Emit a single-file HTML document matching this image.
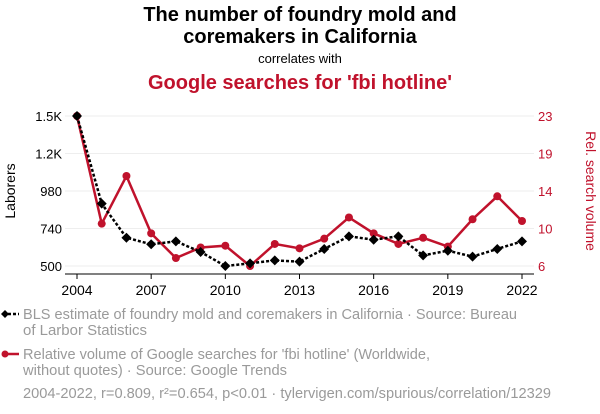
<!DOCTYPE html>
<html><head><meta charset="utf-8"><style>
body{margin:0;background:#fff;width:600px;height:414px;overflow:hidden;font-family:"Liberation Sans",sans-serif}
svg{display:block}
</style></head><body>
<svg id="chart" width="600" height="414" viewBox="0 0 600 414" font-family="Liberation Sans, sans-serif">
<text x="300" y="21" text-anchor="middle" font-size="20" font-weight="bold" fill="#000">The number of foundry mold and</text>
<text x="300" y="43" text-anchor="middle" font-size="20" font-weight="bold" fill="#000">coremakers in California</text>
<text x="300" y="63" text-anchor="middle" font-size="13" fill="#000">correlates with</text>
<text x="300" y="89" text-anchor="middle" font-size="20" font-weight="bold" fill="#c0122c">Google searches for 'fbi hotline'</text>
<g id="grid"></g>
<g id="axes"></g>
<g id="series"></g>
<text transform="translate(15,191) rotate(-90)" text-anchor="middle" font-size="14" fill="#000">Laborers</text>
<text transform="translate(586,191) rotate(90)" text-anchor="middle" font-size="14" fill="#c0122c">Rel. search volume</text>
<g>
<line x1="3" y1="314" x2="19" y2="314" stroke="#000" stroke-width="2.5" stroke-dasharray="3,2"/>
<path d="M5,310 L9,314 L5,318 L1,314Z" fill="#000"/>
<text x="23" y="319" font-size="14.5" fill="#9a9a9a" textLength="494" lengthAdjust="spacingAndGlyphs">BLS estimate of foundry mold and coremakers in California · Source: Bureau</text>
<text x="23" y="335" font-size="14.5" fill="#9a9a9a" textLength="124" lengthAdjust="spacingAndGlyphs">of Larbor Statistics</text>
</g>
<g>
<line x1="3" y1="354" x2="19" y2="354" stroke="#c0122c" stroke-width="2.5"/>
<circle cx="5" cy="354" r="3.5" fill="#c0122c"/>
<text x="23" y="359" font-size="14.5" fill="#9a9a9a" textLength="407" lengthAdjust="spacingAndGlyphs">Relative volume of Google searches for 'fbi hotline' (Worldwide,</text>
<text x="23" y="375" font-size="14.5" fill="#9a9a9a" textLength="264" lengthAdjust="spacingAndGlyphs">without quotes) · Source: Google Trends</text>
</g>
<text x="23" y="398" font-size="14.5" fill="#9a9a9a" textLength="528" lengthAdjust="spacingAndGlyphs">2004-2022, r=0.809, r²=0.654, p&lt;0.01 · tylervigen.com/spurious/correlation/12329</text>
</svg>
<script>
const years=[2004,2005,2006,2007,2008,2009,2010,2011,2012,2013,2014,2015,2016,2017,2018,2019,2020,2021,2022];
const laborers=[1460,899,681,639,658,590,500,517,536,528,609,690,668,690,568,598,560,609,658];
const searches=[23,10.8,16.2,9.7,6.9,8.1,8.3,6,8.5,8.0,9.1,11.5,9.7,8.5,9.2,8.2,11.3,13.9,11.1];
const leftTicks=[500,740,980,1220,1460];
const leftTickLabels=['500','740','980','1.2K','1.5K'];
const rightTicks=[6,10.25,14.5,18.75,23];
const rightTickLabels=['6','10','14','19','23'];
const xTicks=[2004,2007,2010,2013,2016,2019,2022];
const NS='http://www.w3.org/2000/svg';
const X0=77,X1=522,Y0=266,Y1=116;
const xs=y=>X0+(y-years[0])/(years[years.length-1]-years[0])*(X1-X0);
const yl=v=>Y0-(v-500)/(1460-500)*(Y0-Y1);
const yr=v=>Y0-(v-6)/(23-6)*(Y0-Y1);
function mk(t,a,p){const e=document.createElementNS(NS,t);for(const k in a)e.setAttribute(k,a[k]);p.appendChild(e);return e;}
const grid=document.getElementById('grid'),axes=document.getElementById('axes'),ser=document.getElementById('series');
leftTicks.forEach((v,i)=>{
 const g=mk('line',{x1:X0-12,x2:X1+12,y1:yl(v),y2:yl(v),stroke:'#eee','stroke-width':1},grid);
 
 
 const t=mk('text',{x:62,y:yl(v)+5,'text-anchor':'end','font-size':13,fill:'#000'},axes);t.textContent=leftTickLabels[i];
 
 
});
rightTicks.forEach((v,i)=>{
 const t=mk('text',{x:538,y:yr(v)+5,'text-anchor':'start','font-size':13,fill:'#c0122c'},axes);t.textContent=rightTickLabels[i];
 
 
});
const ax=mk('line',{x1:X0-12,x2:X1+12,y1:274,y2:274,stroke:'#000','stroke-width':1},axes);


xTicks.forEach(y=>{
 mk('line',{x1:xs(y),x2:xs(y),y1:274,y2:279,stroke:'#000'},axes);
 const t=mk('text',{x:xs(y),y:295,'text-anchor':'middle','font-size':14,fill:'#000'},axes);t.textContent=y;
 
 
});
const rp=mk('polyline',{points:years.map((y,i)=>xs(y)+','+yr(searches[i])).join(' '),fill:'none',stroke:'#c0122c','stroke-width':2.5},ser);


years.forEach((y,i)=>{const c=mk('circle',{cx:xs(y),cy:yr(searches[i]),r:4,fill:'#c0122c'},ser);
 
 });
const lp=mk('polyline',{points:years.map((y,i)=>xs(y)+','+yl(laborers[i])).join(' '),fill:'none',stroke:'#000','stroke-width':2.5,'stroke-dasharray':'3,2'},ser);


years.forEach((y,i)=>{const x=xs(y),yy=yl(laborers[i]);const p=mk('path',{d:`M${x},${yy-5} L${x+5},${yy} L${x},${yy+5} L${x-5},${yy}Z`,fill:'#000'},ser);
 
 });
</script>
</body></html>
